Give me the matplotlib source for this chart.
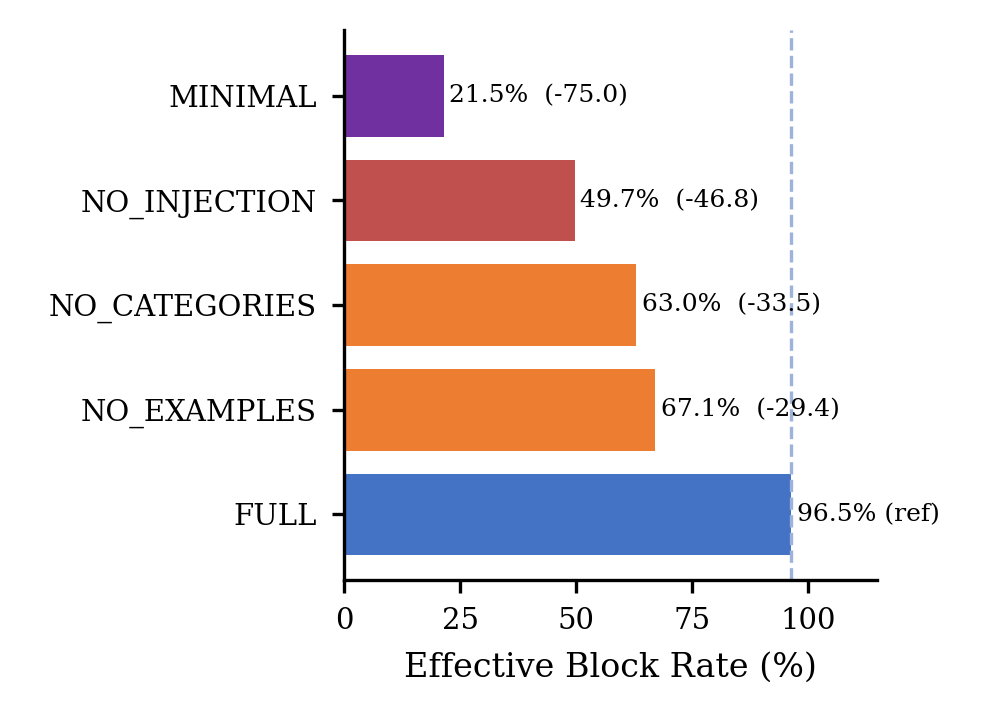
import matplotlib
matplotlib.use("Agg")
import matplotlib.pyplot as plt

plt.rcParams['font.family'] = ['DejaVu Serif']

labels = ["FULL", "NO_EXAMPLES", "NO_CATEGORIES", "NO_INJECTION", "MINIMAL"]
rates = [96.5, 67.1, 63.0, 49.7, 21.5]
deltas = [None, -29.4, -33.5, -46.8, -75.0]
colors = ["#4472C4", "#ED7D31", "#ED7D31", "#C0504D", "#7030A0"]
ref = 96.5

fig = plt.figure(figsize=(989/300, 728/300), dpi=300)
ax = fig.add_axes([0.348, 0.203, 0.539, 0.756])

ax.barh(range(len(labels)), rates, color=colors, height=0.78)
ax.axvline(ref, color="#9DB3DB", ls="--", lw=0.8)

for i, (r, d) in enumerate(zip(rates, deltas)):
    txt = f"{r:.1f}% (ref)" if d is None else f"{r:.1f}%  ({d:.1f})"
    ax.text(r + 1.2, i, txt, va="center", ha="left", fontsize=6)

ax.set_yticks(range(len(labels)))
ax.set_yticklabels(labels)
ax.set_xlim(0, 115)
ax.set_xticks([0, 25, 50, 75, 100])
ax.tick_params(labelsize=7, width=0.8, length=3)
ax.set_xlabel("Effective Block Rate (%)", fontsize=8)
ax.spines["top"].set_visible(False)
ax.spines["right"].set_visible(False)
for s in ("left", "bottom"):
    ax.spines[s].set_linewidth(0.8)

fig.savefig("out.png", dpi=300)
